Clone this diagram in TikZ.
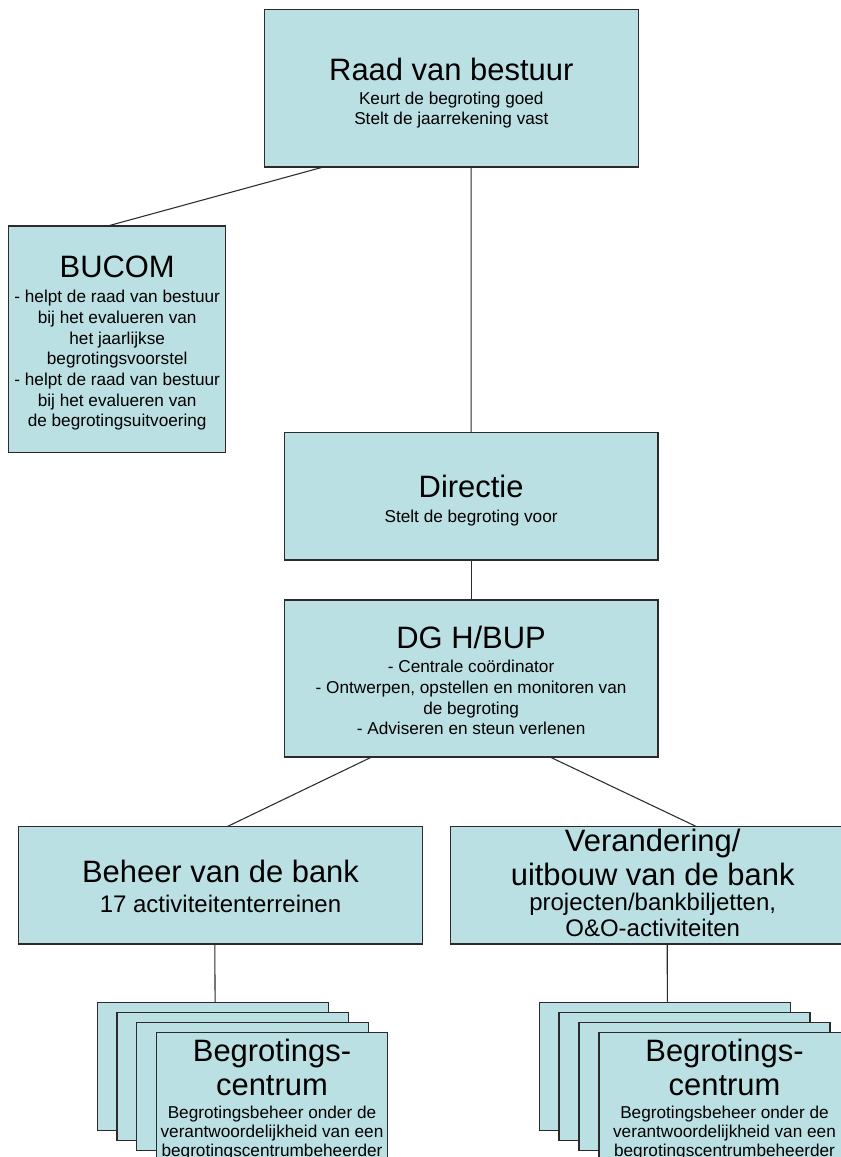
\documentclass[tikz,border=0pt]{standalone}
\usepackage{fontspec}
\setmainfont{Liberation Sans}
\usetikzlibrary{calc}
\definecolor{boxfill}{HTML}{BBE0E3}
\definecolor{edge}{HTML}{2B2B2B}
\newcommand\fT{\fontsize{23.2}{28}\selectfont}
\newcommand\fM{\fontsize{18}{22}\selectfont}
\newcommand\fS{\fontsize{12.9}{15}\selectfont}
\newcommand\boxat[5]{\node[orgbox, minimum width=#4*0.75pt, minimum height=#5*0.75pt] (#1) at (#2,#3) {};}
\tikzset{
  orgbox/.style={draw=edge, fill=boxfill, line width=0.8pt, rectangle, anchor=north west, inner sep=0pt, outer sep=0pt},
  conn/.style={draw=edge, line width=0.8pt},
  tline/.style={anchor=base, inner sep=0pt, text=black}
}
\begin{document}
\begin{tikzpicture}[x=0.75pt, y=-0.75pt]
\useasboundingbox (0,0) rectangle (841,1157);
\clip (0,0) rectangle (841,1157);

% main boxes
\boxat{raad}{264.3}{9.3}{374}{157.7}
\boxat{bucom}{8.7}{226}{217}{226.3}
\boxat{dir}{284.3}{432.3}{373.7}{127.7}
\boxat{dg}{284.3}{600}{373.7}{157}
\boxat{beh}{18.3}{826.7}{404.4}{117.3}
\boxat{ver}{450.7}{826.7}{404}{117.3}

% left stack
\boxat{lc0}{97.3}{1002.7}{231.4}{128}
\boxat{lc1}{117}{1012.7}{231.4}{128}
\boxat{lc2}{136.7}{1022.5}{231.4}{128}
\boxat{lc3}{156.3}{1032.3}{231.4}{128}
% right stack
\boxat{rc0}{539.3}{1002.7}{251}{128}
\boxat{rc1}{559}{1012.7}{251}{128}
\boxat{rc2}{579}{1022.5}{251}{128}
\boxat{rc3}{599}{1032.3}{251}{128}

% connectors
\draw[conn] ($(raad.south west)!0.158!(raad.south east)$) -- ($(bucom.north west)!0.456!(bucom.north east)$);
\draw[conn] ($(raad.south west)!0.553!(raad.south east)$) -- ($(dir.north west)!0.5!(dir.north east)$);
\draw[conn] (dir.south) -- (dg.north);
\draw[conn] ($(dg.south west)!0.234!(dg.south east)$) -- ($(beh.north west)!0.516!(beh.north east)$);
\draw[conn] ($(dg.south west)!0.711!(dg.south east)$) -- ($(ver.north west)!0.609!(ver.north east)$);
\draw[conn] ($(beh.south west)!0.486!(beh.south east)$) -- ($(lc0.north west)!0.509!(lc0.north east)$);
\draw[conn] ($(ver.south west)!0.536!(ver.south east)$) -- ($(rc0.north west)!0.51!(rc0.north east)$);

% Raad van bestuur
\node[tline, font=\fT] (raadA) at (451.3,80) {Raad van bestuur};
\node[tline, font=\fS] (raadB) at (451.3,104.3) {Keurt de begroting goed};
\node[tline, font=\fS] (raadC) at (451.3,124.6) {Stelt de jaarrekening vast};

% BUCOM
\node[tline, font=\fT] (bucA) at (117.2,277.3) {BUCOM};
\node[tline, font=\fS] (bucB) at (117.2,302.9) {- helpt de raad van bestuur};
\node[tline, font=\fS] (bucC) at (117.2,323.5) {bij het evalueren van};
\node[tline, font=\fS] (bucD) at (117.2,344.1) {het jaarlijkse};
\node[tline, font=\fS] (bucE) at (117.2,364.7) {begrotingsvoorstel};
\node[tline, font=\fS] (bucF) at (117.2,385.5) {- helpt de raad van bestuur};
\node[tline, font=\fS] (bucG) at (117.2,406.2) {bij het evalueren van};
\node[tline, font=\fS] (bucH) at (117.2,426.8) {de begrotingsuitvoering};

% Directie
\node[tline, font=\fT] (dirA) at (471.1,497.3) {Directie};
\node[tline, font=\fS] (dirB) at (471.1,522.3) {Stelt de begroting voor};

% DG H/BUP
\node[tline, font=\fT] (dgA) at (471.1,648.3) {DG H/BUP};
\node[tline, font=\fS] (dgB) at (471.1,672.7) {- Centrale coördinator};
\node[tline, font=\fS] (dgC) at (471.1,693.4) {- Ontwerpen, opstellen en monitoren van};
\node[tline, font=\fS] (dgD) at (471.1,714.1) {de begroting};
\node[tline, font=\fS] (dgE) at (471.1,734.8) {- Adviseren en steun verlenen};

% Beheer van de bank
\node[tline, font=\fT] (behA) at (220.5,882.7) {Beheer van de bank};
\node[tline, font=\fM] (behB) at (220.5,912.7) {17 activiteitenterreinen};

% Verandering
\node[tline, font=\fT] (verA) at (652.7,851.7) {Verandering/};
\node[tline, font=\fT] (verB) at (652.7,885) {uitbouw van de bank};
\node[tline, font=\fM] (verC) at (652.7,910.5) {projecten/bankbiljetten,};
\node[tline, font=\fM] (verD) at (652.7,936.7) {O\&O-activiteiten};

% left front card
\node[tline, font=\fT] (lcA) at (272,1061.7) {Begrotings-};
\node[tline, font=\fT] (lcB) at (272,1095) {centrum};
\node[tline, font=\fS] (lcC) at (272,1118.3) {Begrotingsbeheer onder de};
\node[tline, font=\fS] (lcD) at (272,1137.3) {verantwoordelijkheid van een};
\node[tline, font=\fS] (lcE) at (272,1156.3) {begrotingscentrumbeheerder};

% right front card
\node[tline, font=\fT] (rcA) at (724.5,1061.7) {Begrotings-};
\node[tline, font=\fT] (rcB) at (724.5,1095) {centrum};
\node[tline, font=\fS] (rcC) at (724.5,1118.3) {Begrotingsbeheer onder de};
\node[tline, font=\fS] (rcD) at (724.5,1137.3) {verantwoordelijkheid van een};
\node[tline, font=\fS] (rcE) at (724.5,1156.3) {begrotingscentrumbeheerder};
\end{tikzpicture}
\end{document}
